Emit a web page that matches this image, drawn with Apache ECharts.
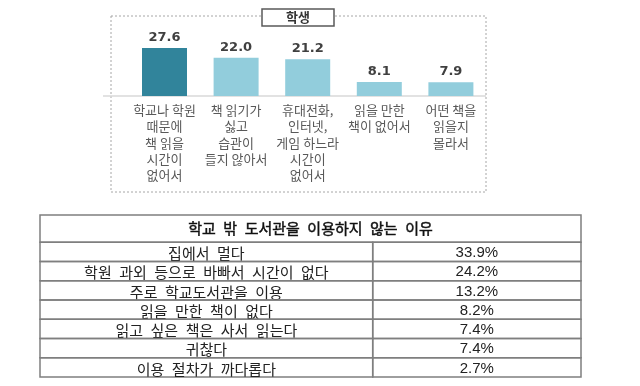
<!DOCTYPE html>
<html>
<head>
<meta charset="utf-8">
<script src="https://cdn.jsdelivr.net/npm/echarts@6/dist/echarts.min.js"></script>
<style>html,body{margin:0;padding:0;background:#fff;}#c{width:640px;height:386px;}</style>
</head>
<body>
<div id="c"></div>
<script>
// ---- data ----
var panelTitle = '학생';
var categories = [
  '학교나 학원\n때문에\n책 읽을\n시간이\n없어서',
  '책 읽기가\n싫고\n습관이\n들지 않아서',
  '휴대전화,\n인터넷,\n게임 하느라\n시간이\n없어서',
  '읽을 만한\n책이 없어서',
  '어떤 책을\n읽을지\n몰라서'
];
var values = [27.6, 22.0, 21.2, 8.1, 7.9];

var tableTitle = '학교 밖 도서관을 이용하지 않는 이유';
var reasons = [
  '집에서 멀다',
  '학원 과외 등으로 바빠서 시간이 없다',
  '주로 학교도서관을 이용',
  '읽을 만한 책이 없다',
  '읽고 싶은 책은 사서 읽는다',
  '귀찮다',
  '이용 절차가 까다롭다'
];
var reasonPct = [33.9, 24.2, 13.2, 8.2, 7.4, 7.4, 2.7];

// ---- chart ----
var chart = echarts.init(document.getElementById('c'), null, {renderer: 'canvas'});
var KR = '"Noto Sans CJK KR", sans-serif';
var LINE = '#7f7f7f';
var SPLIT = 61.5; // column divider, percent of table width
// the source table uses a wide (half-em) word space
function wide(s) { return s.replace(/ /g, '\u2002'); }

var option = {
  backgroundColor: '#ffffff',
  animation: false,
  grid: [
    {left: 128.7, right: 153.3, top: 43.83, bottom: 290},
    {left: 40, right: 59, top: 242.3, bottom: 9}
  ],
  xAxis: [
    {
      type: 'category', gridIndex: 0, data: categories,
      axisLine: {show: false}, axisTick: {show: false},
      axisLabel: {interval: 0, hideOverlap: false, margin: 6, color: '#595959',
        fontSize: 13, lineHeight: 16.3, fontFamily: KR}
    },
    {type: 'value', gridIndex: 1, min: 0, max: 100, show: false}
  ],
  yAxis: [
    {type: 'value', gridIndex: 0, min: 0, max: 30, show: false},
    {type: 'category', gridIndex: 1, data: reasons, inverse: true, show: false}
  ],
  series: [
    {
      type: 'bar', xAxisIndex: 0, yAxisIndex: 0, barWidth: 45,
      data: values.map(function (v, i) {
        return {value: v, itemStyle: {color: i === 0 ? '#31849b' : '#92cddc'}};
      }),
      label: {
        show: true, position: 'top', distance: 4,
        formatter: function (p) { return p.value.toFixed(1); },
        color: '#404040', fontSize: 13, fontWeight: 'bold', fontFamily: '"DejaVu Sans", sans-serif'
      }
    },
    {
      type: 'custom', xAxisIndex: 1, yAxisIndex: 1, clip: false,
      data: reasons.map(function (r, i) { return [0, i]; }),
      renderItem: function (params, api) {
        var i = params.dataIndex;
        var c0 = api.coord([0, api.value(1)]);
        var cMid = api.coord([SPLIT, api.value(1)]);
        var c1 = api.coord([100, api.value(1)]);
        var h = api.size([0, 1])[1];
        var top = c0[1] - h / 2;
        var ls = {stroke: LINE, lineWidth: 1.5, fill: 'none'};
        return {
          type: 'group',
          children: [
            {type: 'rect', shape: {x: c0[0], y: top, width: cMid[0] - c0[0], height: h}, style: ls},
            {type: 'rect', shape: {x: cMid[0], y: top, width: c1[0] - cMid[0], height: h}, style: ls},
            {type: 'text', style: {text: wide(reasons[i]), x: (c0[0] + cMid[0]) / 2, y: c0[1] + 1.5,
              align: 'center', verticalAlign: 'middle', font: '15px ' + KR, fill: '#222'}},
            {type: 'text', style: {text: reasonPct[i].toFixed(1) + '%', x: (cMid[0] + c1[0]) / 2, y: c0[1] + 1,
              align: 'center', verticalAlign: 'middle', font: '15px "Liberation Sans", Arial, sans-serif', fill: '#222'}}
          ]
        };
      }
    }
  ],
  graphic: [
    {type: 'rect', shape: {x: 111, y: 16, width: 375, height: 176}, z: 0,
      style: {fill: 'none', stroke: '#a6a6a6', lineWidth: 1, lineDash: [2, 2]}},
    {type: 'line', shape: {x1: 103, y1: 96, x2: 486, y2: 96}, z: 1,
      style: {stroke: '#d9d9d9', lineWidth: 1.5}},
    {type: 'rect', shape: {x: 262, y: 9, width: 72, height: 17}, z: 5,
      style: {fill: '#fff', stroke: '#595959', lineWidth: 1.5}},
    {type: 'text', x: 298, y: 17.5, z: 6,
      style: {text: panelTitle, align: 'center', verticalAlign: 'middle', font: 'bold 13px ' + KR, fill: '#333'}},
    {type: 'rect', shape: {x: 40, y: 215, width: 541, height: 27.3}, z: 5,
      style: {fill: 'none', stroke: LINE, lineWidth: 1.5}},
    {type: 'text', x: 310.5, y: 228, z: 6,
      style: {text: wide(tableTitle), align: 'center', verticalAlign: 'middle', font: '15px ' + KR,
        fill: '#111', stroke: '#111', lineWidth: 0.45}}
  ]
};
chart.setOption(option);
</script>
</body>
</html>
